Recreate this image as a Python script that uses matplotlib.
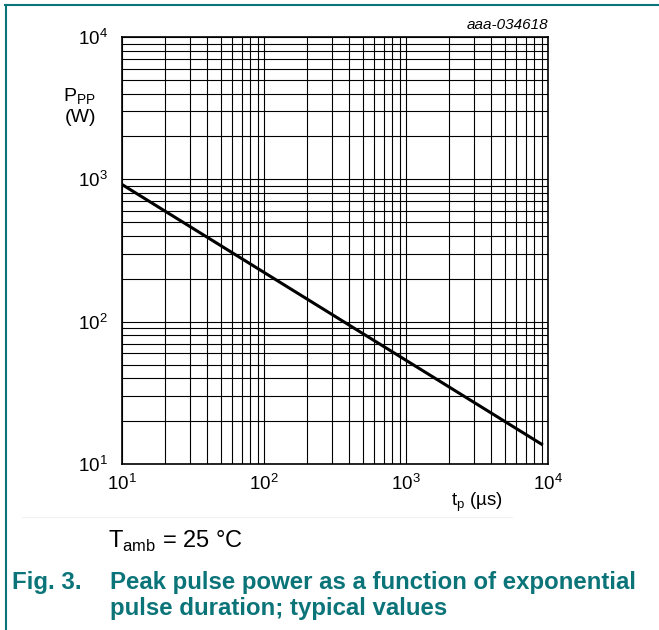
import matplotlib
matplotlib.use("Agg")
import matplotlib.pyplot as plt
import numpy as np
from matplotlib.lines import Line2D

plt.rcParams['font.family'] = ['Liberation Sans', 'DejaVu Sans']

# Data (straight line on log-log axes)
tp_us = [10, 9200]
ppp_w = [920, 13.6]

x_ticks = [10, 100, 1000, 10000]
y_ticks = [10, 100, 1000, 10000]
x_ticklabels = [r'$\mathregular{10^1}$', r'$\mathregular{10^2}$', r'$\mathregular{10^3}$', r'$\mathregular{10^4}$']
y_ticklabels = x_ticklabels

teal = '#0b7479'

fig = plt.figure(figsize=(6.59, 6.30), dpi=100)
ax = fig.add_axes([122/659, 1 - 464/630, 426/659, 427/630])
ax.set_xscale('log')
ax.set_yscale('log')
ax.set_xlim(10, 10000)
ax.set_ylim(10, 10000)

ax.grid(True, which='both', color='black', linewidth=0.8)
ax.set_axisbelow(True)
ax.plot(tp_us, ppp_w, color='black', linewidth=2.2, solid_capstyle='butt')

ax.set_xticks(x_ticks)
ax.set_xticklabels(x_ticklabels)
ax.set_yticks(y_ticks)
ax.set_yticklabels(y_ticklabels)
ax.tick_params(which='both', length=0)
ax.tick_params(axis='x', pad=7, labelsize=13.5)
ax.tick_params(axis='y', pad=10, labelsize=13.5)
for s in ax.spines.values():
    s.set_linewidth(1.2)

fig.text(79/659, 1 - 97/630, r'P$_{\mathregular{PP}}$', ha='center', va='center', fontsize=14)
fig.text(80/659, 1 - 117/630, '(W)', ha='center', va='center', fontsize=14)
fig.text(503/659, 1 - 502/630, r't$_{\mathregular{p}}$ (µs)', ha='right', va='center', fontsize=13.5)
fig.text(548/659, 1 - 25/630, 'aaa-034618', ha='right', va='center', fontsize=11, style='italic')

fig.text(108/659, 1 - 541/630, r'T$_{\mathregular{amb}}$ = 25 °C', ha='left', va='center', fontsize=17)

fig.text(12/659, 1 - 582/630, 'Fig. 3.', ha='left', va='center', fontsize=17.3, fontweight='bold', color=teal)
fig.text(110/659, 1 - 582/630, 'Peak pulse power as a function of exponential', ha='left', va='center', fontsize=17.3, fontweight='bold', color=teal)
fig.text(110/659, 1 - 609/630, 'pulse duration; typical values', ha='left', va='center', fontsize=17.3, fontweight='bold', color=teal)

# figure frame lines (top and left)
fig.add_artist(Line2D([5/659, 1], [1 - 4.5/630, 1 - 4.5/630], transform=fig.transFigure, color=teal, linewidth=1.5))
fig.add_artist(Line2D([5.5/659, 5.5/659], [0, 1 - 4.5/630], transform=fig.transFigure, color=teal, linewidth=1.5))
fig.add_artist(Line2D([22/659, 512/659], [1 - 517/630, 1 - 517/630], transform=fig.transFigure, color='#f2f2f2', linewidth=0.8))

fig.savefig('out.png', dpi=100)
